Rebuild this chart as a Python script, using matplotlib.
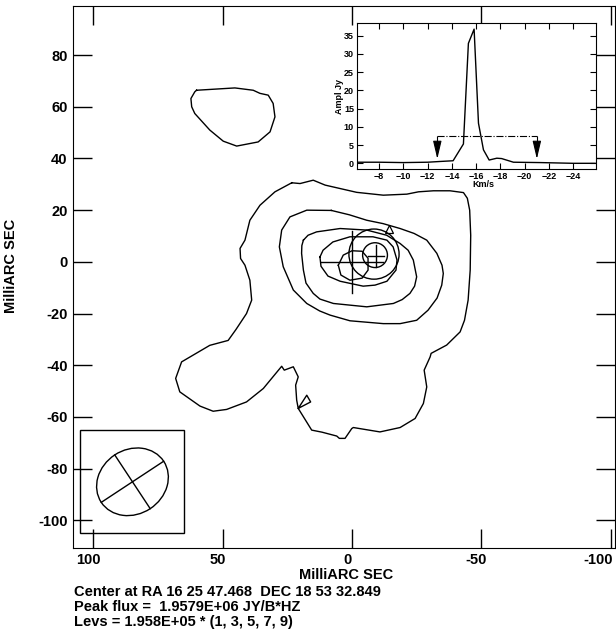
import matplotlib
matplotlib.use("Agg")
import matplotlib.pyplot as plt
from matplotlib.patches import Ellipse, Circle, Rectangle
from matplotlib.ticker import FuncFormatter
from matplotlib.transforms import ScaledTranslation
import numpy as np

plt.rcParams['font.family'] = ['Liberation Sans', 'DejaVu Sans']
plt.rcParams['font.weight'] = 'bold'

# contour paths in milliarcsec (x = RA offset, y = DEC offset)
contour_1_main = [
    (23.3, 30.6), (29.8, 27.1), (35.6, 21.9), (39.5, 16.1), (41.4, 8.4),
    (43.3, 5.2), (43.1, 1.3), (41.4, -1.3), (39.5, -7.1), (38.8, -14.8),
    (40.8, -20.0), (44.9, -26.2), (47.9, -30.4), (55.0, -32.3), (65.9, -38.7),
    (68.2, -45.1), (66.6, -50.3), (58.8, -55.8), (53.7, -57.8), (48.5, -57.1),
    (40.8, -54.2), (34.3, -49.0), (27.2, -40.4), (26.2, -41.9), (22.7, -40.6),
    (20.8, -44.5), (21.8, -47.7), (21.4, -53.5), (20.8, -56.7), (17.5, -51.6),
    (16.0, -54.2), (20.8, -56.7), (15.6, -65.1), (11.6, -65.9), (5.9, -67.4),
    (4.9, -68.3), (2.7, -68.3), (0.1, -64.5), (-0.5, -64.1), (-10.8, -65.8),
    (-18.6, -64.1), (-24.4, -60.6), (-27.6, -54.8), (-28.9, -48.4), (-27.9, -41.9),
    (-30.2, -36.8), (-30.6, -35.4), (-36.6, -32.2), (-41.8, -27.1), (-43.5, -22.6),
    (-44.9, -14.8), (-45.7, -3.2), (-45.9, 10.3), (-45.5, 20.0), (-44.6, 24.6),
    (-43.1, 26.8), (-37.9, 27.5), (-31.5, 27.5), (-25.7, 27.1), (-21.2, 26.2),
    (-12.1, 25.8), (-1.8, 26.9), (10.4, 29.7), (15.0, 31.6), (20.1, 30.3),
]
contour_1_island = [
    (60.1, 66.4), (45.3, 67.3), (38.2, 66.4), (35.6, 65.2), (32.4, 64.5),
    (30.5, 61.3), (29.8, 56.1), (31.7, 50.3), (36.3, 46.4), (44.6, 44.8),
    (49.8, 46.7), (55.0, 51.0), (60.8, 57.4), (62.0, 60.0), (62.3, 63.2),
    (60.8, 65.8),
]
contour_3 = [
    (8.0, 19.9), (17.5, 20.0), (24.0, 17.4), (27.2, 12.3), (28.1, 5.8),
    (26.6, -1.9), (22.7, -10.9), (17.5, -16.1), (12.5, -19.0), (8.5, -20.6),
    (0.8, -22.8), (-12.1, -23.9), (-18.6, -23.9), (-25.0, -22.6), (-29.4, -18.7),
    (-32.9, -14.0), (-34.7, -9.0), (-35.3, -4.5), (-34.8, -1.3), (-32.8, 3.3),
    (-28.9, 8.4), (-24.0, 11.0), (-18.6, 12.9), (-12.0, 14.8), (-5.7, 16.1),
    (1.0, 18.2),
]
contour_5 = [
    (18.8, 8.4), (17.0, 10.3), (13.7, 11.6), (4.6, 12.9), (-5.7, 12.3),
    (-13.4, 10.3), (-18.6, 7.1), (-21.7, 4.5), (-23.7, 0.7), (-25.0, -5.8),
    (-24.2, -9.4), (-22.4, -12.2), (-19.4, -14.6), (-16.0, -16.1), (-5.7, -17.4),
    (7.2, -16.1), (12.4, -14.4), (15.0, -12.2), (17.8, -8.2), (18.8, -3.2),
    (19.5, 3.3), (19.4, 6.3),
]
contour_7 = [
    (12.4, 1.9), (11.2, 4.5), (7.4, 7.7), (0.8, 9.7), (-8.1, 9.7),
    (-13.5, 8.4), (-15.9, 5.8), (-17.4, 0.7), (-17.0, -3.2), (-13.5, -7.5),
    (-8.9, -9.0), (-4.3, -9.4), (4.6, -7.5), (9.3, -5.5), (12.0, -1.7),
]
contour_9 = [
    (5.3, -1.3), (3.4, 2.6), (0.0, 4.3), (-3.9, 4.1), (-6.2, 1.4),
    (-6.2, -3.2), (-3.9, -6.3), (0.8, -7.1), (4.3, -5.1),
]
contours = [contour_1_main, contour_1_island, contour_3, contour_5, contour_7, contour_9]

# model components: circles and crosses
circle_x = [-8.5, -8.9]
circle_y = [3.0, 2.6]
circle_r = [9.7, 4.8]
cross_x = [0.0, -9.3]
cross_y = [0.0, 2.3]
cross_dx = [12.0, 3.2]
cross_dy = [12.0, 4.2]
triangle_x = [-14.4]
triangle_y = [12.9]

# restoring beam
beam_box = (65.0, -105.0, 40.0, 40.0)
beam_center = (84.9, -85.1)
beam_major = 28.9
beam_minor = 24.9
beam_angle = 146.6

# spectrum
velocity = [-6.2, -8.0, -10.0, -12.0, -13.0, -14.1, -14.95, -15.36, -15.83,
            -16.19, -16.6, -17.07, -17.7, -18.1, -19.07, -21.3, -24.0, -25.8]
flux = [0.3, 0.3, 0.2, 0.3, 0.5, 0.7, 5.3, 32.9, 36.8,
        11.0, 3.7, 0.9, 1.4, 1.3, 0.3, 0.2, 0.0, 0.0]
window_v = [-12.8, -21.0]
window_level = 7.6
arrow_top = 5.6
arrow_tip = 1.2

x_ticks = [100, 50, 0, -50, -100]
y_ticks = [80, 60, 40, 20, 0, -20, -40, -60, -80, -100]
spec_x_ticks = [-8, -10, -12, -14, -16, -18, -20, -22, -24]
spec_y_ticks = [0, 5, 10, 15, 20, 25, 30, 35]

info_lines = [
    "Center at RA 16 25 47.468  DEC 18 53 32.849",
    "Peak flux =  1.9579E+06 JY/B*HZ",
    "Levs = 1.958E+05 * (1, 3, 5, 7, 9)",
]

W, H = 616, 635
fig = plt.figure(figsize=(W / 100, H / 100), dpi=100)

ax = fig.add_axes([73 / W, 1 - 547.7 / H, (615 - 73) / W, (547.7 - 6) / H])
for path in contours:
    pts = np.array(path + [path[0]])
    ax.plot(pts[:, 0], pts[:, 1], color="black", lw=1.0)

for cx, cy, r in zip(circle_x, circle_y, circle_r):
    ax.add_patch(Circle((cx, cy), r, fill=False, ec="black", lw=1.0))
for cx, cy, dx, dy in zip(cross_x, cross_y, cross_dx, cross_dy):
    ax.plot([cx - dx, cx + dx], [cy, cy], color="black", lw=1.0)
    ax.plot([cx, cx], [cy - dy, cy + dy], color="black", lw=1.0)
ax.plot(triangle_x, triangle_y, marker="^", ms=6, mfc="none", mec="black",
        mew=0.9, ls="none")

ax.add_patch(Rectangle(beam_box[:2], beam_box[2], beam_box[3], fill=False,
                       ec="black", lw=1.0))
ax.add_patch(Ellipse(beam_center, beam_major, beam_minor, angle=beam_angle,
                     fill=False, ec="black", lw=1.0))
a = np.deg2rad(beam_angle)
ax.plot([beam_center[0] - beam_major / 2 * np.cos(a), beam_center[0] + beam_major / 2 * np.cos(a)],
        [beam_center[1] - beam_major / 2 * np.sin(a), beam_center[1] + beam_major / 2 * np.sin(a)],
        color="black", lw=1.0)
ax.plot([beam_center[0] - beam_minor / 2 * np.sin(a), beam_center[0] + beam_minor / 2 * np.sin(a)],
        [beam_center[1] + beam_minor / 2 * np.cos(a), beam_center[1] - beam_minor / 2 * np.cos(a)],
        color="black", lw=1.0)

ax.set_xlim(107.9, -101.7)
ax.set_ylim(-110.6, 99.0)
ax.set_xticks(x_ticks)
ax.set_yticks(y_ticks)
plain = FuncFormatter(lambda v, p: "%d" % v)
ax.xaxis.set_major_formatter(plain)
ax.yaxis.set_major_formatter(plain)
ax.tick_params(direction="in", length=14, width=1.0, top=True, right=True,
               labelsize=10.5, pad=4)
fig.canvas.draw()
# labels sit a few pixels left of their ticks; the last one ends at the edge
xlabels = ax.get_xticklabels()
for lab in xlabels[:-1]:
    lab.set_transform(lab.get_transform()
                      + ScaledTranslation(-0.05, 0, fig.dpi_scale_trans))
xlabels[-1].set_horizontalalignment("right")
xlabels[-1].set_transform(xlabels[-1].get_transform()
                          + ScaledTranslation(0.02, 0, fig.dpi_scale_trans))
ax.set_xlabel("MilliARC SEC", fontsize=10.5, fontweight="bold", va="center")
ax.xaxis.set_label_coords(0.504, -0.050)
ax.set_ylabel("MilliARC SEC", fontsize=10.5, fontweight="bold", va="center")
ax.yaxis.set_label_coords(-0.115, 0.52)

for i, line in enumerate(info_lines):
    fig.text(74 / W, 1 - (592 + 15 * i) / H, line, fontsize=10.5,
             fontweight="bold", va="center", ha="left")

# spectrum inset
ax2 = fig.add_axes([356.7 / W, 1 - 169 / H, (596 - 356.7) / W, (169 - 23.3) / H])
ax2.set_facecolor("white")
ax2.plot(velocity, flux, color="black", lw=1.0)
ax2.plot(window_v, [window_level, window_level], color="black", lw=0.8, ls="-.")
for v in window_v:
    ax2.plot([v, v], [window_level, arrow_top], color="black", lw=0.8, ls="-.")
    ax2.annotate("", xy=(v, arrow_tip), xytext=(v, arrow_top),
                 arrowprops=dict(arrowstyle="-|>,head_length=1.1,head_width=0.26",
                                 fc="black", ec="black", lw=0.8,
                                 shrinkA=0, shrinkB=0, mutation_scale=10))
ax2.set_xlim(-6.16, -25.87)
ax2.set_ylim(-1.56, 38.4)
ax2.set_xticks(spec_x_ticks)
ax2.set_yticks(spec_y_ticks)
ax2.tick_params(direction="in", length=4, width=0.8, top=True, right=True,
                labelsize=6.5, pad=2)
ax2.set_xlabel("Km/s", fontsize=6.5, fontweight="bold", va="center")
ax2.xaxis.set_label_coords(0.529, -0.105)
ax2.set_ylabel("Ampl Jy", fontsize=6.5, fontweight="bold", va="center")
ax2.yaxis.set_label_coords(-0.07, 0.5)

fig.savefig("out.png", dpi=100)
